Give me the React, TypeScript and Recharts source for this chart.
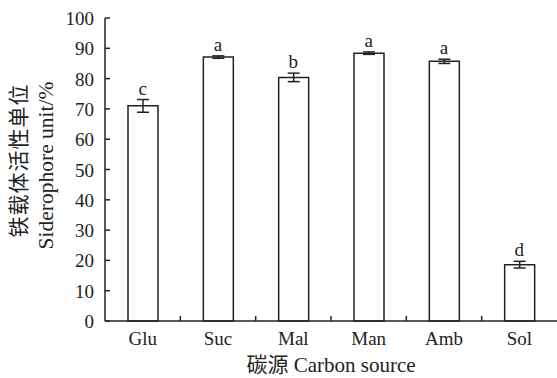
import {
  Bar,
  ComposedChart,
  ErrorBar,
  LabelList,
  Line,
  XAxis,
  YAxis,
} from 'recharts';

const categories = ['Glu', 'Suc', 'Mal', 'Man', 'Amb', 'Sol'];
const values = [71, 87.1, 80.4, 88.4, 85.7, 18.6];
const errors = [2.1, 0.4, 1.4, 0.4, 0.7, 1.1];
const letters = ['c', 'a', 'b', 'a', 'a', 'd'];
const yTicks = [0, 10, 20, 30, 40, 50, 60, 70, 80, 90, 100];

const W = 557;
const H = 378;
const Y_AXIS_W = 105;
const INK = '#222';
const FONT = "'Liberation Serif', 'Times New Roman', 'Noto Sans CJK SC', serif";

const data = categories.map((c, i) => ({
  name: c,
  value: values[i],
  err: errors[i],
  top: values[i] + errors[i],
  letter: letters[i],
}));

const halfBand = (W - Y_AXIS_W) / categories.length / 2;
const serif = { fontFamily: FONT };

function YTick(props: any) {
  const { x, y, payload } = props;
  const axisX = x + 10;
  return (
    <g>
      <line x1={axisX} x2={axisX + 5} y1={y} y2={y} stroke={INK} strokeWidth={1.5} />
      <text x={x - 1} y={y} dy={7} textAnchor="end" fontSize={19} fill={INK} style={serif}>
        {payload.value}
      </text>
    </g>
  );
}

function XTick(props: any) {
  const { x, y, payload, index } = props;
  return (
    <g>
      {index < categories.length - 1 && (
        <line x1={x + halfBand} x2={x + halfBand} y1={y} y2={y - 5} stroke={INK} strokeWidth={1.5} />
      )}
      <text x={x} y={y} dy={24} textAnchor="middle" fontSize={19} fill={INK} style={serif}>
        {payload.value}
      </text>
    </g>
  );
}

function YLabel(props: any) {
  const cy = props.viewBox ? props.viewBox.y + props.viewBox.height / 2 : 170;
  return (
    <g fill={INK}>
      <text x={19} y={cy - 9} transform={`rotate(-90 19 ${cy - 9})`} textAnchor="middle" dominantBaseline="central" fontSize={21} letterSpacing={1} style={serif}>
        铁载体活性单位
      </text>
      <text x={46} y={cy - 4} transform={`rotate(-90 46 ${cy - 4})`} textAnchor="middle" dominantBaseline="central" fontSize={21.5} style={serif}>
        Siderophore unit/%
      </text>
    </g>
  );
}

function XLabel(props: any) {
  const vb = props.viewBox;
  const cx = vb ? vb.x + vb.width / 2 : 331;
  return (
    <text x={cx} y={372} textAnchor="middle" fontSize={21} fill={INK} style={serif}>
      碳源 Carbon source
    </text>
  );
}

export default function App() {
  return (
    <div style={{ position: 'absolute', left: 0, top: 0, background: '#fff' }}>
      <ComposedChart width={W} height={H} data={data} margin={{ top: 18, right: 0, bottom: 0, left: 0 }}>
        <XAxis
          dataKey="name"
          height={57}
          tickLine={false}
          tickSize={0}
          tickMargin={0}
          tick={<XTick />}
          axisLine={{ stroke: INK, strokeWidth: 1.5 }}
          label={<XLabel />}
          interval={0}
        />
        <YAxis
          width={Y_AXIS_W}
          domain={[0, 100]}
          ticks={yTicks}
          tickLine={false}
          tickSize={0}
          tickMargin={10}
          tick={<YTick />}
          axisLine={{ stroke: INK, strokeWidth: 1.5 }}
          label={<YLabel />}
          interval={0}
        />
        <Bar dataKey="value" barSize={30} fill="#fff" stroke={INK} strokeWidth={1.5} isAnimationActive={false}>
          <ErrorBar dataKey="err" width={6} stroke={INK} strokeWidth={1.5} />
        </Bar>
        <Line dataKey="top" stroke="none" dot={false} activeDot={false} isAnimationActive={false}>
          <LabelList dataKey="letter" position="top" offset={5} fontSize={19} fill={INK} style={serif} />
        </Line>
      </ComposedChart>
    </div>
  );
}
